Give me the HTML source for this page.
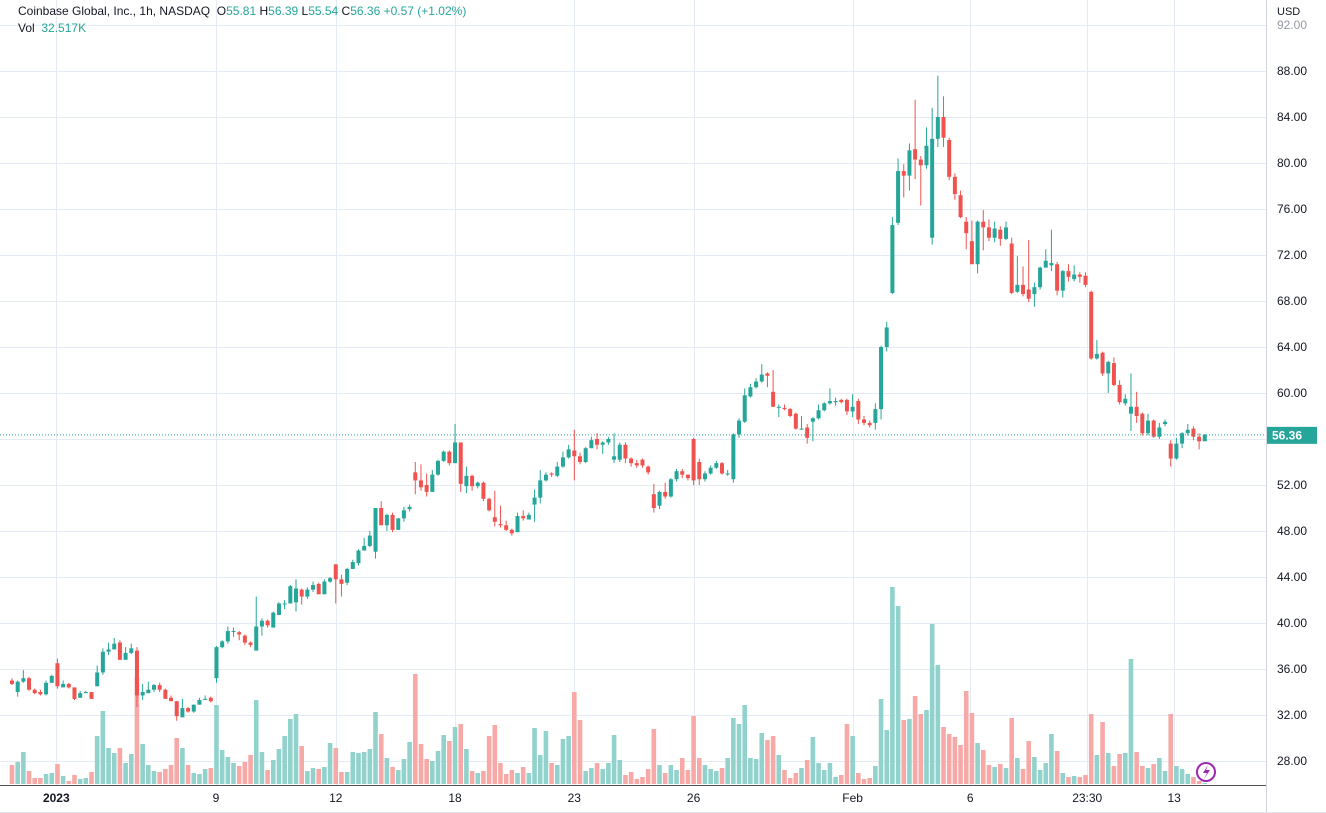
<!DOCTYPE html>
<html><head><meta charset="utf-8"><style>
body{margin:0;background:#fff;font-family:"Liberation Sans",sans-serif;}
#wrap{position:relative;width:1326px;height:813px;overflow:hidden;}
svg{position:absolute;left:0;top:0;}
.hdr{position:absolute;left:18px;font-size:12px;color:#131722;white-space:nowrap;}
.g{color:#26a69a;}
</style></head><body>
<div id="wrap">
<svg id="chart" width="1326" height="813"></svg>
<div class="hdr" style="top:4px">Coinbase Global, Inc., 1h, NASDAQ&nbsp;&nbsp;O<span class="g">55.81</span> H<span class="g">56.39</span> L<span class="g">55.54</span> C<span class="g">56.36</span> <span class="g">+0.57 (+1.02%)</span></div>
<div class="hdr" style="top:21px">Vol&nbsp;&nbsp;<span class="g">32.517K</span></div>
</div>
<script>
const opens=[35.0,34.0,34.9,35.2,34.2,34.0,33.8,34.8,36.5,34.4,34.7,34.4,33.5,33.9,34.0,34.5,35.7,37.5,37.7,38.3,36.8,37.4,37.6,33.7,33.9,34.2,34.6,34.2,33.5,33.2,31.8,32.6,32.3,32.9,33.4,33.5,35.2,
37.9,38.4,39.3,39.2,38.9,38.3,37.6,39.7,40.2,39.6,40.7,41.7,41.7,41.8,42.9,42.3,42.9,43.4,42.5,43.6,45.1,43.8,43.5,44.7,45.2,46.3,46.7,46.2,50.0,48.5,49.4,48.1,49.1,49.9,53.1,52.4,52.0,51.4,52.9,54.1,54.9,53.9,
55.7,51.9,52.8,51.9,52.2,50.8,49.2,48.6,48.5,48.1,47.9,49.3,49.0,50.3,50.9,52.4,53.0,52.8,53.6,54.4,55.0,54.5,54.0,55.2,56.0,55.5,55.7,54.2,54.2,55.5,54.3,53.9,54.2,53.6,51.2,50.2,51.4,51.0,52.5,53.2,52.9,56.0,54.0,52.5,53.0,53.5,53.9,53.0,52.5,56.4,57.5,
59.7,60.5,61.0,61.7,60.1,58.8,58.7,58.6,58.2,56.9,57.0,57.5,57.8,58.5,59.1,59.2,59.4,59.4,58.4,59.3,57.7,57.4,57.4,58.6,64.0,68.7,74.8,79.3,78.9,81.2,80.3,79.8,73.5,82.1,84.0,82.0,78.8,77.2,74.9,73.2,71.2,74.9,74.4,73.5,
74.2,73.4,73.0,68.8,69.4,69.0,68.6,69.2,70.9,71.1,71.2,68.9,70.6,69.9,70.3,70.2,68.8,63.0,63.5,61.7,62.6,60.7,59.1,58.2,58.8,58.2,56.5,57.6,56.2,57.3,55.6,54.3,55.6,56.5,56.9,56.2,55.8];
const closes=[34.7,34.9,35.2,34.2,33.9,33.8,34.8,35.4,34.5,34.7,34.4,33.4,33.9,34.0,33.4,35.7,37.5,37.7,38.2,36.8,37.4,37.8,33.7,34.0,34.2,34.6,34.2,33.4,33.2,31.9,32.6,32.3,32.9,33.3,33.4,33.2,37.9,
38.4,39.3,39.3,39.0,38.3,38.1,39.7,40.2,39.8,40.9,41.7,41.7,43.2,43.0,42.3,42.9,43.3,42.5,43.6,43.9,43.8,43.4,44.7,45.3,46.3,46.7,47.6,50.0,48.5,49.4,48.1,49.1,49.8,50.1,52.4,51.8,51.4,52.9,54.1,54.9,53.9,55.7,
52.1,52.8,51.9,52.2,50.8,49.8,48.8,48.5,48.1,47.8,49.3,49.1,49.4,50.9,52.4,52.9,52.9,53.6,54.4,55.1,54.5,54.0,55.2,55.9,55.5,55.7,56.0,54.5,55.5,54.3,53.9,53.7,53.7,53.1,50.0,51.4,51.0,52.5,53.2,52.9,52.6,52.4,52.5,53.0,53.5,53.9,53.0,53.0,56.4,57.6,59.8,
60.5,61.0,61.6,61.5,58.8,58.8,58.6,58.0,56.9,56.9,56.1,57.8,58.5,59.1,59.3,59.3,59.2,58.4,58.8,57.7,57.4,57.2,58.6,64.0,65.7,74.6,79.3,78.9,81.1,80.3,79.8,81.5,82.1,84.0,82.2,78.8,77.3,75.3,73.9,71.2,74.9,74.4,73.5,74.3,
73.4,74.4,68.7,69.4,68.6,68.2,69.2,70.9,71.5,71.3,68.9,70.6,70.1,70.3,70.1,69.4,63.0,63.4,61.7,62.7,60.7,59.2,59.5,58.8,58.0,56.5,57.6,56.2,57.0,57.5,54.3,55.6,56.5,56.8,56.2,55.8,56.4];
const highs=[35.2,35.0,35.9,35.3,34.3,34.2,35.0,35.5,36.9,35.0,34.8,34.4,34.1,34.1,34.0,36.3,37.8,38.3,38.7,38.5,37.9,38.2,37.9,34.7,34.9,34.7,34.8,34.3,33.7,33.2,33.4,32.7,32.9,33.5,33.7,33.6,38.0,
38.5,39.7,39.6,39.3,39.0,38.4,42.3,40.4,40.3,41.0,41.8,42.0,43.3,43.8,43.0,43.1,43.6,43.5,43.8,44.0,45.1,44.2,44.8,45.5,46.4,47.4,48.0,50.0,50.6,49.5,49.6,49.1,50.1,50.3,54.0,53.8,53.0,53.3,54.2,55.0,55.0,57.3,
55.7,53.6,52.9,52.3,52.3,50.9,51.5,50.2,48.9,48.2,49.6,49.8,49.6,51.6,53.3,53.1,53.1,54.0,54.9,55.5,56.8,54.8,55.3,56.2,56.5,55.8,56.2,56.5,55.7,55.7,54.4,54.2,54.3,53.7,52.1,51.5,52.2,52.6,53.4,53.4,52.9,56.1,54.3,53.2,53.7,54.1,54.0,53.3,56.5,57.8,60.4,
60.8,61.3,62.5,61.8,62.0,59.0,59.0,58.7,58.3,58.0,57.3,57.9,59.0,59.2,60.4,59.6,59.5,59.5,59.9,59.5,58.0,57.6,59.1,64.1,66.2,75.3,80.4,79.9,81.7,85.5,80.6,83.1,84.8,87.6,85.8,82.2,79.1,77.6,75.3,75.0,75.0,75.9,75.1,74.9,
74.5,74.9,73.5,71.9,71.0,73.3,69.6,71.0,72.5,74.2,71.4,70.7,71.2,71.1,70.5,70.5,68.9,64.6,63.6,62.8,63.1,61.1,59.9,61.7,60.1,58.3,58.2,57.7,57.4,57.7,55.9,56.1,56.6,57.3,57.1,56.5,56.4];
const lows=[34.6,33.6,34.8,34.1,33.8,33.7,33.7,34.8,34.3,34.4,34.3,33.3,33.5,33.9,33.4,34.5,35.5,37.2,37.7,36.8,36.8,37.3,32.7,33.3,33.9,34.0,34.0,33.4,33.2,31.5,31.8,32.2,32.2,32.9,33.3,33.1,34.8,
37.8,38.2,38.8,38.5,38.1,37.9,37.6,38.9,39.6,39.6,40.7,41.2,41.7,41.0,41.6,42.1,42.7,42.5,42.5,43.5,41.7,42.3,43.3,44.7,45.0,46.3,46.6,45.6,48.5,48.0,47.9,48.1,48.8,49.7,51.2,51.5,51.0,51.4,52.8,54.0,53.7,53.9,
51.4,51.3,51.5,51.7,50.6,49.7,48.4,48.3,48.0,47.6,47.9,48.9,49.0,48.8,50.4,52.3,52.7,52.7,53.5,54.3,52.4,53.8,53.9,55.3,55.1,54.7,55.5,53.9,54.0,53.9,53.6,53.5,53.5,52.9,49.6,49.9,50.8,50.9,52.3,52.6,52.4,52.0,52.0,52.3,52.9,53.4,52.9,52.8,52.2,56.1,57.4,
59.6,60.4,60.9,60.5,58.8,57.9,58.5,57.9,56.8,56.8,55.6,55.8,57.7,58.4,59.0,58.9,59.1,58.1,57.9,57.3,57.2,57.0,56.8,57.7,63.6,68.6,74.6,77.0,77.6,78.6,76.3,79.5,72.9,81.4,81.4,78.5,76.8,75.2,72.5,71.2,70.4,72.4,73.2,73.1,
72.8,73.3,68.6,68.7,68.4,67.9,67.5,69.0,71.0,70.6,68.5,68.3,69.7,69.7,69.6,69.2,62.9,62.9,61.5,60.0,60.6,59.0,58.9,56.7,57.4,56.3,56.3,56.1,56.0,57.1,53.6,54.2,55.2,56.3,55.9,55.1,55.9];
const volumes=[19,22,32,13,6,6,10,11,20,8,3,9,5,6,12,48,73,36,31,36,21,30,107,40,19,13,12,15,19,46,36,19,11,10,15,16,79,34,27,
21,18,22,29,84,32,14,24,35,48,65,70,38,13,16,15,17,41,36,12,12,32,31,32,35,72,50,26,17,14,25,42,110,40,25,23,33,49,43,57,60,35,13,11,13,48,59,21,10,14,11,17,11,56,29,53,21,19,45,48,92,64,13,16,21,15,21,49,24,9,12,5,7,15,55,19,11,19,14,26,14,68,26,19,15,13,16,26,
66,60,79,26,25,51,44,48,29,14,6,11,16,24,47,21,14,21,7,9,60,48,11,5,6,18,85,54,197,178,64,65,88,70,74,160,119,57,50,47,39,93,71,41,34,19,17,20,16,66,26,15,43,27,14,21,50,33,11,7,8,7,9,70,29,62,31,18,30,31,125,32,18,16,20,26,13,70,18,15,10,7,3,1];
const priceTicks=[28,32,36,40,44,48,52,56,60,64,68,72,76,80,84,88,92];
const timeLabels=["2023","9","12","18","23","26","Feb","6","23:30","13"];
const timeLabelIdx=[7.8,35.9,57,78,99,120,148,168.7,189.3,204.6];
const lastPrice=56.36;

const NS="http://www.w3.org/2000/svg";
const svg=document.getElementById('chart');
const PW=1266, PB=785;
const yP=p=>761-(p-28)*11.5;
const xI=i=>12+i*5.68;
const yV=v=>PB-1-v;
function mk(tag,attrs,parent){const e=document.createElementNS(NS,tag);for(const k in attrs)e.setAttribute(k,attrs[k]);(parent||svg).appendChild(e);return e;}

const grid=mk('g',{});


priceTicks.forEach(p=>{
  const l=mk('line',{x1:0,x2:PW,y1:yP(p)+.5,y2:yP(p)+.5,stroke:'#e4ebf2','stroke-width':1},grid);
  
  
});
timeLabelIdx.forEach(i=>{
  const l=mk('line',{x1:Math.round(xI(i))+.5,x2:Math.round(xI(i))+.5,y1:0,y2:PB,stroke:'#e4ebf2','stroke-width':1},grid);
  
  
});

const vg=mk('g',{});


volumes.forEach((v,i)=>{
  const up=closes[i]>=opens[i];
  const r=mk('rect',{x:xI(i)-2.3,y:yV(v),width:4.6,height:v,fill:up?'#92d2cc':'#f7a9a7'},vg);
  
  
});

const cg=mk('g',{});


opens.forEach((o,i)=>{
  const c=closes[i],up=c>=o,col=up?'#26a69a':'#ef5350',x=xI(i);
  const g=mk('g',{},cg);
  
  
  mk('line',{x1:x,x2:x,y1:yP(highs[i]),y2:yP(lows[i]),stroke:col,'stroke-width':1},g);
  const t=yP(Math.max(o,c)),b=yP(Math.min(o,c));
  mk('rect',{x:x-2,y:t,width:4,height:Math.max(1,b-t),fill:col},g);
});

const pl=mk('line',{x1:0,x2:PW,y1:yP(lastPrice),y2:yP(lastPrice),stroke:'#26a69a','stroke-width':1,'stroke-dasharray':'1,2'});



const ax=mk('g',{});


mk('rect',{x:PW,y:0,width:60,height:813,fill:'#fff'},ax);
mk('line',{x1:PW+.5,x2:PW+.5,y1:0,y2:813,stroke:'#d1d4dc'},ax);
const usd=mk('text',{x:1277,y:15,'font-size':11,fill:'#131722','font-family':'Liberation Sans'},ax);
usd.textContent='USD';


priceTicks.forEach(p=>{
  const t=mk('text',{x:1277,y:yP(p)+4,'font-size':12,fill:p===92?'#9598a1':'#131722','font-family':'Liberation Sans'},ax);
  t.textContent=p.toFixed(2);
  
  
});
const lb=mk('rect',{x:PW+1,y:yP(lastPrice)-8,width:50,height:17,fill:'#26a69a'},ax);


const lt=mk('text',{x:1272,y:yP(lastPrice)+4.5,'font-size':12,'font-weight':'bold',fill:'#fff','font-family':'Liberation Sans'},ax);
lt.textContent=lastPrice.toFixed(2);



const tx=mk('g',{});


mk('rect',{x:0,y:PB,width:PW,height:28,fill:'#fff'},tx);
mk('line',{x1:0,x2:PW,y1:PB+.5,y2:PB+.5,stroke:'#50535e'},tx);
timeLabels.forEach((s,k)=>{
  const t=mk('text',{x:xI(timeLabelIdx[k]),y:802,'font-size':12,'text-anchor':'middle',fill:'#131722','font-weight':s==='2023'?'bold':'normal','font-family':'Liberation Sans'},tx);
  t.textContent=s;
  
  
});
mk('line',{x1:0,x2:1326,y1:812.5,y2:812.5,stroke:'#e0e3eb'},tx);

const ic=mk('g',{});


mk('circle',{cx:1206,cy:772,r:9,fill:'#fff',stroke:'#9c27b0','stroke-width':2},ic);
mk('path',{d:'M1208,765 L1203,773 L1207,773 L1204,779 L1210,770 L1206,770 Z',fill:'#9c27b0'},ic);
</script>
</body></html>
